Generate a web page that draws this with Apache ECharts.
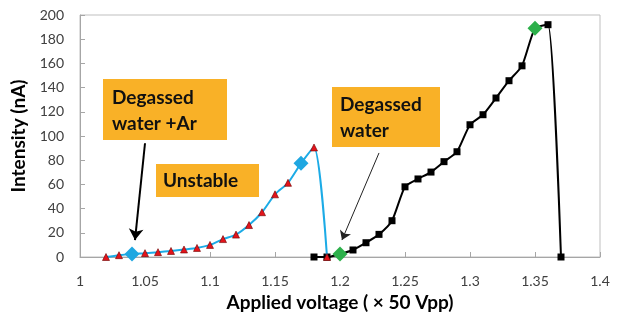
<!DOCTYPE html>
<html>
<head>
<meta charset="utf-8">
<script src="https://cdn.jsdelivr.net/npm/echarts@6/dist/echarts.min.js"></script>
<style>
  html, body { margin: 0; padding: 0; background: #fff; }
  #chart { width: 619px; height: 323px; }
</style>
</head>
<body>
<div id="chart"></div>
<script>
// Degassed water + Ar (blue line, red triangles)
const arVoltage = [1.02, 1.03, 1.04, 1.05, 1.06, 1.07, 1.08, 1.09, 1.10, 1.11, 1.12, 1.13, 1.14, 1.15, 1.16, 1.17, 1.18, 1.19];
const arCurrent = [0, 1.5, 2.5, 3.2, 4, 5, 6.2, 7.5, 10, 14.8, 18.5, 26.4, 37, 51.8, 61.3, 77.4, 90.5, 0];
const arHighlight = [2, 15]; // blue diamonds

// Degassed water (black line, squares)
const waterVoltage = [1.18, 1.19, 1.20, 1.21, 1.22, 1.23, 1.24, 1.25, 1.26, 1.27, 1.28, 1.29, 1.30, 1.31, 1.32, 1.33, 1.34, 1.35, 1.36, 1.37];
const waterCurrent = [0, 0, 2.5, 5.8, 11.8, 18.7, 30, 58, 64.5, 70.2, 78.8, 87, 109.3, 117.6, 131.4, 145.7, 158, 189, 192, 0];
const waterHighlight = [2, 17]; // green diamonds

// arrows, in data coordinates: [from, to]
const arArrow = [[1.05, 94], [1.0423, 14]];
const waterArrow = [[1.23, 86], [1.2015, 14]];

const font = 'Lato, "DejaVu Sans", sans-serif';

function buildData(xs, ys, marks, color) {
  return xs.map((x, i) => {
    if (marks.indexOf(i) >= 0) {
      return { value: [x, ys[i]], symbol: 'diamond', symbolSize: 15, itemStyle: { color: color, borderWidth: 0 } };
    }
    return [x, ys[i]];
  });
}

const chart = echarts.init(document.getElementById('chart'));

const option = {
  animation: false,
  grid: {
    left: 80, right: 19, top: 15, bottom: 66,
    show: true, borderColor: '#bfbfbf', borderWidth: 1
  },
  xAxis: {
    type: 'value',
    min: 1, max: 1.4, interval: 0.05,
    name: 'Applied voltage ( \u00d7 50 Vpp)',
    nameLocation: 'middle',
    nameGap: 34,
    nameTextStyle: { fontFamily: font, fontWeight: 'bold', fontSize: 19, color: '#000' },
    axisLine: { lineStyle: { color: '#a6a6a6' } },
    axisTick: { show: true, inside: true, length: 5, lineStyle: { color: '#a6a6a6' } },
    axisLabel: {
      fontFamily: font, fontSize: 14, color: '#404040', margin: 17,
      formatter: v => String(+v.toFixed(2))
    },
    splitLine: { show: false }
  },
  yAxis: {
    type: 'value',
    min: 0, max: 200, interval: 20,
    name: 'Intensity (nA)',
    nameLocation: 'middle',
    nameGap: 50,
    nameTextStyle: { fontFamily: font, fontWeight: 'bold', fontSize: 19, color: '#000' },
    axisLine: { show: true, lineStyle: { color: '#a6a6a6' } },
    axisTick: { show: true, inside: true, length: 5, lineStyle: { color: '#a6a6a6' } },
    axisLabel: { fontFamily: font, fontSize: 14, color: '#404040', margin: 16 },
    splitLine: { show: false }
  },
  series: [
    {
      name: 'Degassed water',
      type: 'line',
      smooth: 0.2,
      data: buildData(waterVoltage, waterCurrent, waterHighlight, '#2db04b'),
      symbol: 'rect',
      symbolSize: 7,
      itemStyle: { color: '#000' },
      lineStyle: { color: '#000', width: 2 },
      markLine: {
        silent: true,
        symbol: ['none', 'arrow'],
        symbolSize: 9,
        label: { show: false },
        lineStyle: { color: '#222', width: 1, type: 'solid' },
        data: [[{ coord: waterArrow[0] }, { coord: waterArrow[1] }]]
      },
      z: 2
    },
    {
      name: 'Degassed water +Ar',
      type: 'line',
      smooth: 0.25,
      data: buildData(arVoltage, arCurrent, arHighlight, '#1fa7e1'),
      symbol: 'triangle',
      symbolSize: 7,
      itemStyle: { color: '#e3141b', borderColor: '#6b0000', borderWidth: 0.6 },
      lineStyle: { color: '#1cabe6', width: 2 },
      markLine: {
        silent: true,
        symbol: ['none', 'arrow'],
        symbolSize: 11,
        label: { show: false },
        lineStyle: { color: '#000', width: 2, type: 'solid' },
        data: [[{ coord: arArrow[0] }, { coord: arArrow[1] }]]
      },
      z: 3
    }
  ],
  graphic: [
    { type: 'rect', left: 103, top: 79, shape: { width: 124, height: 61 }, style: { fill: '#f9b127' } },
    { type: 'text', left: 112, top: 85, style: { text: 'Degassed\nwater +Ar', font: 'bold 19px ' + font, fill: '#111', lineHeight: 26 } },
    { type: 'rect', left: 156, top: 164, shape: { width: 103, height: 33 }, style: { fill: '#f9b127' } },
    { type: 'text', left: 163, top: 169, style: { text: 'Unstable', font: 'bold 19px ' + font, fill: '#111', lineHeight: 24 } },
    { type: 'rect', left: 332, top: 87, shape: { width: 108, height: 60 }, style: { fill: '#f9b127' } },
    { type: 'text', left: 340, top: 92, style: { text: 'Degassed\nwater', font: 'bold 19px ' + font, fill: '#111', lineHeight: 26 } }
  ]
};

chart.setOption(option);
</script>
</body>
</html>
